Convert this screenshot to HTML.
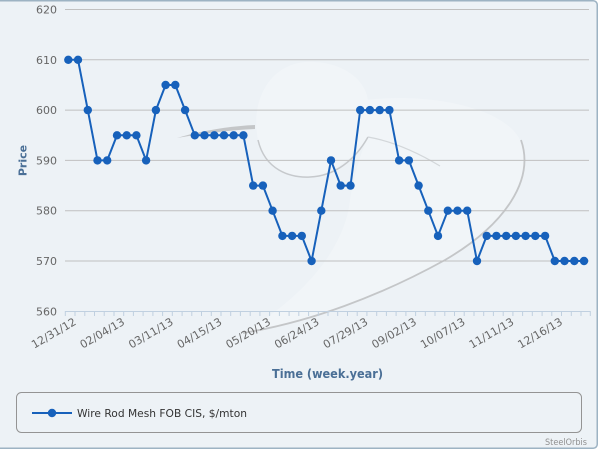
<!DOCTYPE html>
<html><head><meta charset="utf-8"><style>
html,body{margin:0;padding:0;background:#fff;}
svg{display:block;}
text{font-family:"DejaVu Sans","Liberation Sans",sans-serif;}
</style></head><body>
<svg width="600" height="450" viewBox="0 0 600 450" xmlns="http://www.w3.org/2000/svg">
<rect x="0" y="0" width="600" height="450" fill="#ffffff"/>
<rect x="-6" y="0.75" width="603.25" height="447.5" rx="4" fill="#edf2f6" stroke="#9db3c3" stroke-width="1.5"/>

<!-- watermark -->
<g>
<path d="M258,140 C250,100 270,65 305,62 C340,60 365,78 368,100 L368,137 C350,165 320,180 300,176 C275,172 262,158 258,140 Z" fill="#f1f5f8"/>
<path d="M366,100 C430,92 505,108 520,140 C535,180 505,225 445,260 C380,296 310,322 243,333 C300,300 345,250 350,200 C355,170 362,150 368,137 Z" fill="#f1f5f8"/>
<path d="M258,140 C265,170 290,178 310,177 C335,176 355,160 368,137" fill="none" stroke="#c6c9cc" stroke-width="1.5"/>
<path d="M368,137 C385,140 410,148 440,166" fill="none" stroke="#d3d7da" stroke-width="1.2"/>
<path d="M521,140 C535,180 505,225 445,260 C380,296 310,322 243,333" fill="none" stroke="#c4c6c8" stroke-width="1.8"/>
<path d="M177,138 C200,131 230,126 255,125 L255,129 C230,130 200,134 177,138 Z" fill="#c4c6c8"/>
</g>

<!-- grid -->
<g stroke="#c0c0c0" stroke-width="1">
<line x1="65" y1="9.5" x2="589" y2="9.5"/>
<line x1="65" y1="59.8" x2="589" y2="59.8"/>
<line x1="65" y1="110.1" x2="589" y2="110.1"/>
<line x1="65" y1="160.4" x2="589" y2="160.4"/>
<line x1="65" y1="210.7" x2="589" y2="210.7"/>
<line x1="65" y1="261" x2="589" y2="261"/>
</g>
<line x1="65" y1="311.5" x2="590" y2="311.5" stroke="#c0d0e0" stroke-width="1"/>
<path stroke="#c0d0e0" stroke-width="1" d="M65.3,311V316M75,311V316M84.8,311V316M94.5,311V316M104.2,311V316M114,311V316M123.7,311V316M133.4,311V316M143.1,311V316M152.9,311V316M162.6,311V316M172.3,311V316M182.1,311V316M191.8,311V316M201.5,311V316M211.3,311V316M221,311V316M230.7,311V316M240.4,311V316M250.2,311V316M259.9,311V316M269.6,311V316M279.4,311V316M289.1,311V316M298.8,311V316M308.6,311V316M318.3,311V316M328,311V316M337.7,311V316M347.5,311V316M357.2,311V316M366.9,311V316M376.7,311V316M386.4,311V316M396.1,311V316M405.9,311V316M415.6,311V316M425.3,311V316M435,311V316M444.8,311V316M454.5,311V316M464.2,311V316M474,311V316M483.7,311V316M493.4,311V316M503.2,311V316M512.9,311V316M522.6,311V316M532.3,311V316M542.1,311V316M551.8,311V316M561.5,311V316M571.3,311V316M581,311V316M590.3,311V316"/>

<!-- y labels -->
<g font-size="11" fill="#666" text-anchor="end">
<text x="57" y="13.5">620</text>
<text x="57" y="63.8">610</text>
<text x="57" y="114.1">600</text>
<text x="57" y="164.4">590</text>
<text x="57" y="214.7">580</text>
<text x="57" y="265">570</text>
<text x="57" y="315.3">560</text>
</g>
<text transform="translate(26.5,160.5) rotate(-90)" font-size="11" font-weight="bold" fill="#4a6f96" text-anchor="middle">Price</text>

<!-- x labels -->
<g font-size="11" fill="#666" text-anchor="end">
<text transform="translate(77,324) rotate(-30)">12/31/12</text>
<text transform="translate(125.5,324) rotate(-30)">02/04/13</text>
<text transform="translate(174.1,324) rotate(-30)">03/11/13</text>
<text transform="translate(222.7,324) rotate(-30)">04/15/13</text>
<text transform="translate(271.4,324) rotate(-30)">05/20/13</text>
<text transform="translate(320,324) rotate(-30)">06/24/13</text>
<text transform="translate(368.7,324) rotate(-30)">07/29/13</text>
<text transform="translate(417.3,324) rotate(-30)">09/02/13</text>
<text transform="translate(466,324) rotate(-30)">10/07/13</text>
<text transform="translate(514.7,324) rotate(-30)">11/11/13</text>
<text transform="translate(563.3,324) rotate(-30)">12/16/13</text>
</g>
<text x="272" y="378" font-size="12" font-weight="bold" fill="#4a6f96" textLength="111" lengthAdjust="spacingAndGlyphs">Time (week.year)</text>

<!-- series -->
<polyline fill="none" stroke="#1761bb" stroke-width="2" stroke-linejoin="round" points="68.3,59.8 78,59.8 87.8,110.1 97.5,160.4 107.2,160.4 117,135.3 126.7,135.3 136.4,135.3 146.1,160.4 155.9,110.1 165.6,85 175.3,85 185.1,110.1 194.8,135.3 204.5,135.3 214.3,135.3 224,135.3 233.7,135.3 243.4,135.3 253.2,185.6 262.9,185.6 272.6,210.7 282.4,235.9 292.1,235.9 301.8,235.9 311.6,261 321.3,210.7 331,160.4 340.7,185.6 350.5,185.6 360.2,110.1 369.9,110.1 379.7,110.1 389.4,110.1 399.1,160.4 408.9,160.4 418.6,185.6 428.3,210.7 438,235.9 447.8,210.7 457.5,210.7 467.2,210.7 477,261 486.7,235.9 496.4,235.9 506.2,235.9 515.9,235.9 525.6,235.9 535.3,235.9 545.1,235.9 554.8,261 564.5,261 574.3,261 584,261"/>
<g fill="#1761bb">
<circle cx="68.3" cy="59.8" r="4.2"/><circle cx="78" cy="59.8" r="4.2"/><circle cx="87.8" cy="110.1" r="4.2"/><circle cx="97.5" cy="160.4" r="4.2"/><circle cx="107.2" cy="160.4" r="4.2"/><circle cx="117" cy="135.3" r="4.2"/><circle cx="126.7" cy="135.3" r="4.2"/><circle cx="136.4" cy="135.3" r="4.2"/><circle cx="146.1" cy="160.4" r="4.2"/><circle cx="155.9" cy="110.1" r="4.2"/><circle cx="165.6" cy="85" r="4.2"/><circle cx="175.3" cy="85" r="4.2"/><circle cx="185.1" cy="110.1" r="4.2"/><circle cx="194.8" cy="135.3" r="4.2"/><circle cx="204.5" cy="135.3" r="4.2"/><circle cx="214.3" cy="135.3" r="4.2"/><circle cx="224" cy="135.3" r="4.2"/><circle cx="233.7" cy="135.3" r="4.2"/><circle cx="243.4" cy="135.3" r="4.2"/><circle cx="253.2" cy="185.6" r="4.2"/><circle cx="262.9" cy="185.6" r="4.2"/><circle cx="272.6" cy="210.7" r="4.2"/><circle cx="282.4" cy="235.9" r="4.2"/><circle cx="292.1" cy="235.9" r="4.2"/><circle cx="301.8" cy="235.9" r="4.2"/><circle cx="311.6" cy="261" r="4.2"/><circle cx="321.3" cy="210.7" r="4.2"/><circle cx="331" cy="160.4" r="4.2"/><circle cx="340.7" cy="185.6" r="4.2"/><circle cx="350.5" cy="185.6" r="4.2"/><circle cx="360.2" cy="110.1" r="4.2"/><circle cx="369.9" cy="110.1" r="4.2"/><circle cx="379.7" cy="110.1" r="4.2"/><circle cx="389.4" cy="110.1" r="4.2"/><circle cx="399.1" cy="160.4" r="4.2"/><circle cx="408.9" cy="160.4" r="4.2"/><circle cx="418.6" cy="185.6" r="4.2"/><circle cx="428.3" cy="210.7" r="4.2"/><circle cx="438" cy="235.9" r="4.2"/><circle cx="447.8" cy="210.7" r="4.2"/><circle cx="457.5" cy="210.7" r="4.2"/><circle cx="467.2" cy="210.7" r="4.2"/><circle cx="477" cy="261" r="4.2"/><circle cx="486.7" cy="235.9" r="4.2"/><circle cx="496.4" cy="235.9" r="4.2"/><circle cx="506.2" cy="235.9" r="4.2"/><circle cx="515.9" cy="235.9" r="4.2"/><circle cx="525.6" cy="235.9" r="4.2"/><circle cx="535.3" cy="235.9" r="4.2"/><circle cx="545.1" cy="235.9" r="4.2"/><circle cx="554.8" cy="261" r="4.2"/><circle cx="564.5" cy="261" r="4.2"/><circle cx="574.3" cy="261" r="4.2"/><circle cx="584" cy="261" r="4.2"/>
</g>

<!-- legend -->
<rect x="16.5" y="392.5" width="565" height="40" rx="5" fill="none" stroke="#949494" stroke-width="1"/>
<line x1="32" y1="413" x2="72" y2="413" stroke="#1761bb" stroke-width="2"/>
<circle cx="52" cy="413" r="4.2" fill="#1761bb"/>
<text x="77" y="417" font-size="11" fill="#333" textLength="170" lengthAdjust="spacingAndGlyphs">Wire Rod Mesh FOB CIS, $/mton</text>

<text x="545" y="445" font-size="9" fill="#909090" textLength="42" lengthAdjust="spacingAndGlyphs">SteelOrbis</text>
</svg>
</body></html>
